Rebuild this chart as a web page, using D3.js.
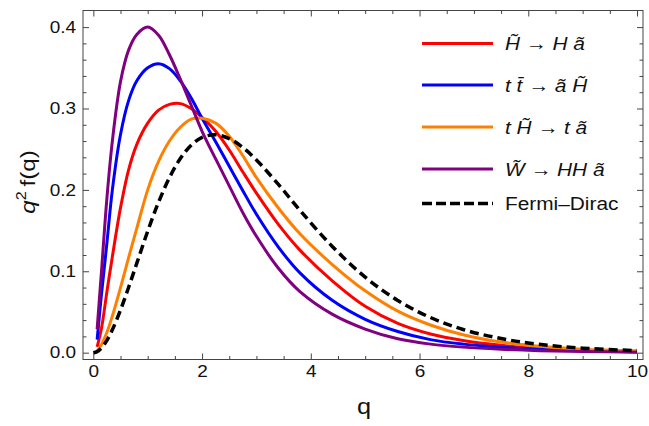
<!DOCTYPE html>
<html>
<head>
<meta charset="utf-8">
<script src="https://cdn.jsdelivr.net/npm/d3@7"></script>
<style>
body { margin: 0; background: #fff; }
svg { display: block; font-family: "Liberation Sans", Arial, sans-serif; }
</style>
</head>
<body>
<div id="chart"></div>
<script>
//values, q grid shared by the four coloured curves
var qGrid = [0.07, 0.15, 0.25, 0.35, 0.5, 0.65, 0.8, 1.0, 1.2, 1.4, 1.6, 1.8, 2.0, 2.25, 2.5, 2.75, 3.0, 3.4, 3.8, 4.4, 5.0, 5.6, 6.2, 6.8, 7.5, 8.2, 9.0, 10];
var redVals = [0.007, 0.030, 0.075, 0.118, 0.178, 0.225, 0.256, 0.282, 0.298, 0.305, 0.306, 0.300, 0.289, 0.272, 0.249, 0.222, 0.196, 0.158, 0.126, 0.088, 0.057, 0.036, 0.023, 0.015, 0.009, 0.005, 0.0027, 0.0012];
var blueVals = [0.016, 0.072, 0.135, 0.200, 0.268, 0.310, 0.334, 0.350, 0.355, 0.349, 0.334, 0.313, 0.288, 0.259, 0.229, 0.199, 0.170, 0.130, 0.098, 0.064, 0.041, 0.026, 0.016, 0.0105, 0.0066, 0.0042, 0.0024, 0.0011];
var orangeVals = [0.002, 0.010, 0.025, 0.045, 0.080, 0.117, 0.153, 0.200, 0.235, 0.260, 0.277, 0.287, 0.288, 0.282, 0.266, 0.242, 0.215, 0.178, 0.146, 0.108, 0.076, 0.051, 0.034, 0.022, 0.013, 0.0078, 0.0042, 0.0022];
var purpleVals = [0.029, 0.100, 0.190, 0.260, 0.333, 0.372, 0.391, 0.400, 0.390, 0.366, 0.336, 0.304, 0.272, 0.238, 0.205, 0.172, 0.143, 0.104, 0.075, 0.047, 0.029, 0.017, 0.0105, 0.0068, 0.0042, 0.0025, 0.0014, 0.0006];

//the dashed fermi-dirac curve starts right at q = 0
var qFD = [0, 0.07, 0.15, 0.25, 0.35, 0.5, 0.65, 0.8, 1.0, 1.2, 1.4, 1.6, 1.8, 2.0, 2.25, 2.5, 2.75, 3.0, 3.4, 3.8, 4.4, 5.0, 5.6, 6.2, 6.8, 7.5, 8.2, 9.0, 10];
var fdVals = [0, 0.0013, 0.0058, 0.0152, 0.0281, 0.0524, 0.0804, 0.110, 0.1492, 0.1849, 0.2150, 0.2385, 0.2549, 0.2645, 0.2677, 0.2630, 0.2521, 0.2367, 0.2071, 0.175, 0.1302, 0.0928, 0.0641, 0.0432, 0.0285, 0.0173, 0.0102, 0.0055, 0.0025];

//tick labels
var xMajor = [0, 2, 4, 6, 8, 10];
var xMinor = [0.5, 1, 1.5, 2.5, 3, 3.5, 4.5, 5, 5.5, 6.5, 7, 7.5, 8.5, 9, 9.5];
var yMajor = [0, 0.1, 0.2, 0.3, 0.4];
var yMinor = [0.02, 0.04, 0.06, 0.08, 0.12, 0.14, 0.16, 0.18, 0.22, 0.24, 0.26, 0.28, 0.32, 0.34, 0.36, 0.38];

//legend entries, in drawing order
var seriesNames = ["red", "blue", "orange", "purple", "fd"];
var seriesColors = ["#ff0000", "#0000ff", "#ff8000", "#800080", "#000000"];

var svgWidth = 649, svgHeight = 426;
var frame = {left: 83, right: 643, top: 10.5, bottom: 359.5};
var stretch = 1.15; //mathematica text comes out a bit wide

var xScale = d3.scaleLinear().domain([-0.19, 10.11]).range([frame.left, frame.right]);
var yScale = d3.scaleLinear().domain([-0.0084, 0.4204]).range([frame.bottom, frame.top]);

var svg = d3.select("#chart").append("svg")
    .attr("width", svgWidth)
    .attr("height", svgHeight);

//frame ticks, all pointing inward, labels only on bottom and left
function frameAxis(axis, transform, labels) {
    var g = svg.append("g").attr("transform", transform).call(axis);
    g.select(".domain").remove();
    g.selectAll(".tick line").attr("stroke", "#444").attr("stroke-width", 1);
    if (labels) {
        g.selectAll(".tick text")
            .attr("fill", "#111")
            .attr("font-size", 16.5)
            .attr("transform", `scale(${stretch},1)`);
    }
    return g;
}

frameAxis(d3.axisBottom(xScale).tickValues(xMajor).tickSize(-6).tickPadding(5.5).tickFormat(d3.format("d")),
    `translate(0,${frame.bottom})`, true);
frameAxis(d3.axisBottom(xScale).tickValues(xMinor).tickSize(-3.5).tickFormat(""), `translate(0,${frame.bottom})`, false);
frameAxis(d3.axisTop(xScale).tickValues(xMajor).tickSize(-6).tickFormat(""), `translate(0,${frame.top})`, false);
frameAxis(d3.axisTop(xScale).tickValues(xMinor).tickSize(-3.5).tickFormat(""), `translate(0,${frame.top})`, false);

frameAxis(d3.axisLeft(yScale).tickValues(yMajor).tickSize(-6).tickPadding(6).tickFormat(d3.format(".1f")),
    `translate(${frame.left},0)`, true);
frameAxis(d3.axisLeft(yScale).tickValues(yMinor).tickSize(-3.5).tickFormat(""), `translate(${frame.left},0)`, false);
frameAxis(d3.axisRight(yScale).tickValues(yMajor).tickSize(-6).tickFormat(""), `translate(${frame.right},0)`, false);
frameAxis(d3.axisRight(yScale).tickValues(yMinor).tickSize(-3.5).tickFormat(""), `translate(${frame.right},0)`, false);

svg.append("rect")
    .attr("x", frame.left).attr("y", frame.top)
    .attr("width", frame.right - frame.left)
    .attr("height", frame.bottom - frame.top)
    .attr("fill", "none").attr("stroke", "#444").attr("stroke-width", 1);

//curves
var line = d3.line()
    .x(d => xScale(d[0]))
    .y(d => yScale(d[1]))
    .curve(d3.curveCatmullRom.alpha(0.5));

var curveData = [
    d3.zip(qGrid, redVals),
    d3.zip(qGrid, blueVals),
    d3.zip(qGrid, orangeVals),
    d3.zip(qGrid, purpleVals),
    d3.zip(qFD, fdVals)
];

svg.append("g").attr("class", "curves")
    .selectAll("path")
    .data(curveData)
    .enter().append("path")
    .attr("d", line)
    .attr("fill", "none")
    .attr("stroke", (d, i) => seriesColors[i])
    .attr("stroke-width", (d, i) => i === 4 ? 3.5 : 3)
    .attr("stroke-dasharray", (d, i) => i === 4 ? "9,5" : null);

//legend
var legendRowY = [43.5, 85, 127, 169, 203.5];
var legend = svg.append("g").attr("class", "legend");

legend.selectAll("line")
    .data(seriesNames)
    .enter().append("line")
    .attr("x1", 422).attr("x2", 493)
    .attr("y1", (d, i) => legendRowY[i])
    .attr("y2", (d, i) => legendRowY[i])
    .attr("stroke", (d, i) => seriesColors[i])
    .attr("stroke-width", (d, i) => i === 4 ? 3.5 : 3)
    .attr("stroke-dasharray", (d, i) => i === 4 ? "10,4" : null);

//each label is a list of [text, italic] pieces
var legendLabels = [
    [["H\u0303", true], [" \u2192 ", false], ["H a\u0303", true]],
    [["t t\u0304", true], [" \u2192 ", false], ["a\u0303 H\u0303", true]],
    [["t H\u0303", true], [" \u2192 ", false], ["t a\u0303", true]],
    [["W\u0303", true], [" \u2192 ", false], ["HH a\u0303", true]],
    [["Fermi\u2013Dirac", false]]
];

legendLabels.forEach(function(parts, i) {
    var t = legend.append("text")
        .attr("transform", `translate(505,${legendRowY[i] + 6.5}) scale(${stretch * 0.98},1)`)
        .attr("font-size", 18.5)
        .attr("fill", "#111");
    parts.forEach(function(p) {
        t.append("tspan")
            .attr("font-style", p[1] ? "italic" : "normal")
            .text(p[0]);
    });
});

//axis titles
svg.append("text")
    .attr("transform", `translate(${(frame.left + frame.right) / 2 + 1},414) scale(${stretch},1)`)
    .attr("text-anchor", "middle")
    .attr("font-size", 22)
    .attr("fill", "#111")
    .text("q");

var yTitle = svg.append("text")
    .attr("transform", `translate(35,182) rotate(-90) scale(${stretch},1)`)
    .attr("text-anchor", "middle")
    .attr("font-size", 21)
    .attr("fill", "#111");
yTitle.append("tspan").attr("font-style", "italic").text("q");
yTitle.append("tspan").attr("font-size", 14).attr("dy", -9).text("2");
yTitle.append("tspan").attr("dy", 9).text("\u2009f(q)");
</script>
</body>
</html>
